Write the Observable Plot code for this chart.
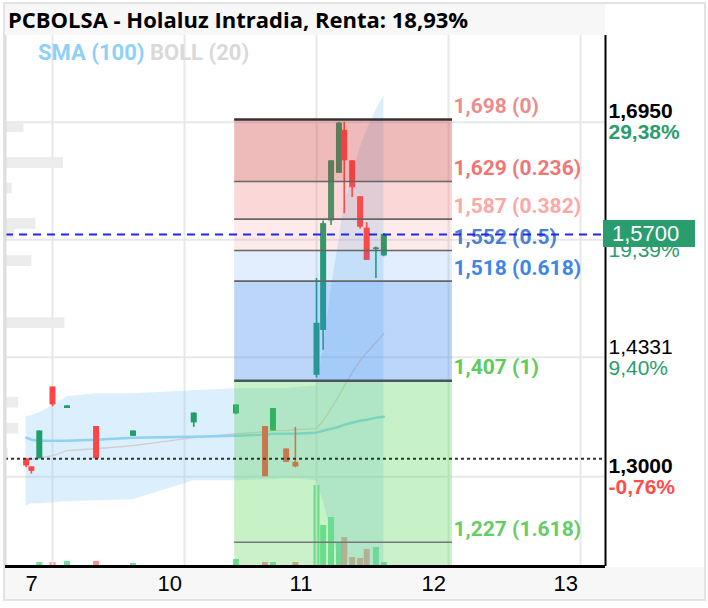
<!DOCTYPE html>
<html>
<head>
<meta charset="utf-8">
<script src="https://cdn.jsdelivr.net/npm/d3@7"></script>
<script src="https://cdn.jsdelivr.net/npm/@observablehq/plot@0.6"></script>
<style>
  html, body { margin: 0; padding: 0; background: #fff; }
  #page { position: relative; width: 708px; height: 608px; overflow: hidden; }
  #frame { position: absolute; left: 3px; top: 2px; width: 703px; height: 599px; box-sizing: border-box; border: 2px solid #e3e3e3; }
  #titlebar { position: absolute; left: 5px; top: 4px; width: 600px; height: 31px; background: #f7f7f7; }
  #title { position: absolute; left: 8px; top: 3px; line-height: 32px; font-family: "Open Sans", sans-serif; font-weight: bold; font-size: 22px; color: #000; white-space: nowrap; }
  #bottombar { position: absolute; left: 5px; top: 567px; width: 699px; height: 32px; background: #f7f7f7; }
  #chart { position: absolute; left: 0; top: 35px; width: 708px; height: 573px; }
  #chart svg { position: absolute; left: 0; top: 0; }
  #legend { position: absolute; left: 38px; top: 5px; font-family: Roboto, sans-serif; font-weight: bold; font-size: 22px; line-height: 25px; white-space: nowrap; }
  #pricebox { position: absolute; left: 603px; width: 92px; height: 27px; background: #2a9d6e; color: #fff; font-family: "Liberation Sans", Arial, sans-serif; font-size: 22px; line-height: 27px; padding-left: 9px; box-sizing: border-box; }
</style>
</head>
<body>
<div id="page">
  <div id="frame"></div>
  <div id="titlebar"></div>
  <div id="title">PCBOLSA - Holaluz Intradia, Renta: 18,93%</div>
  <div id="bottombar"></div>
  <div id="chart"></div>
</div>
<script>
// ---------- data ----------
const dayTicks  = [0, 1, 2, 3, 4];
const dayLabels = ["7", "10", "11", "12", "13"];

const priceTicks      = [1.6950, 1.5640, 1.4331, 1.3000];
const priceTickLabels = ["1,6950", "1,5640", "1,4331", "1,3000"];
const priceTickPct    = ["29,38%", "19,39%", "9,40%", "-0,76%"];
const priceTickBold   = [true, false, false, true];

// intraday bars (x = trading-day index, fractional)
const t     = [-0.20,-0.16,-0.10, 0.00, 0.11, 0.33, 0.61, 1.07, 1.39, 1.61, 1.67, 1.77, 1.84, 2.00, 2.05, 2.11, 2.17, 2.21, 2.27, 2.33, 2.38, 2.45, 2.51];
const open  = [1.320,1.311,1.320,1.400,1.376,1.356,1.345,1.360,1.370,1.356,1.351,1.331,1.316,1.413,1.463,1.585,1.638,1.686,1.652,1.612,1.577,1.553,1.546];
const close = [1.312,1.306,1.351,1.380,1.379,1.320,1.351,1.371,1.380,1.300,1.376,1.316,1.311,1.471,1.582,1.652,1.694,1.652,1.622,1.578,1.541,1.555,1.570];
const high  = [1.320,1.311,1.351,1.400,1.379,1.356,1.351,1.371,1.380,1.356,1.376,1.331,1.355,1.521,1.585,1.652,1.695,1.695,1.652,1.612,1.583,1.556,1.571];
const low   = [1.310,1.303,1.320,1.378,1.376,1.320,1.345,1.355,1.369,1.300,1.351,1.316,1.310,1.410,1.441,1.580,1.638,1.593,1.611,1.576,1.541,1.521,1.545];
const volume= [0,0,2000,2000,2500,2500,1500,0,3500,2000,2000,0,2000,40500,20500,24500,12000,14500,4500,4000,8500,9500,2000];

const sma100  = [1.3435,1.3413,1.3401,1.3401,1.3401,1.3413,1.3435,1.3446,1.3457,1.3468,1.3479,1.3479,1.3479,1.3491,1.3513,1.3535,1.3557,1.3580,1.3602,1.3624,1.3636,1.3658,1.3669];
const bollUp  = [1.3669,1.3680,1.3714,1.3792,1.3892,1.3925,1.3925,1.3959,1.3981,1.3981,1.3981,1.3981,1.3992,1.4015,1.4405,1.5074,1.5631,1.6021,1.6356,1.6657,1.6857,1.7080,1.7248];
const bollMid = [1.3178,1.3190,1.3212,1.3234,1.3290,1.3312,1.3346,1.3435,1.3479,1.3502,1.3513,1.3513,1.3524,1.3535,1.3624,1.3758,1.3903,1.4015,1.4159,1.4293,1.4382,1.4494,1.4594];
const bollLow = [1.2677,1.2699,1.2699,1.2710,1.2721,1.2733,1.2744,1.2955,1.2955,1.2967,1.2967,1.2978,1.2978,1.2955,1.2733,1.2398,1.2064,1.1841,1.1618,1.1395,1.1172,1.0949,1.0726];

// Fibonacci retracement
const fibStart  = 1.38;
const fibEnd    = 3.03;
const fibLevels = [1.698, 1.629, 1.587, 1.552, 1.518, 1.407, 1.227];
const fibRatios = ["0", "0.236", "0.382", "0.5", "0.618", "1", "1.618"];

const entryPrice = 1.32;
const lastPrice  = 1.57;

// blurred left-side profile bars
const ghostPrice = [1.6896, 1.6495, 1.6211, 1.5815, 1.5715, 1.5403, 1.4711, 1.3825, 1.3535, 1.3256];
const ghostLen   = [0.14, 0.44, 0.05, 0.23, 0.07, 0.20, 0.45, 0.10, 0.10, 0.02];

// ---------- styles ----------
const GREEN = "#1e9e68", RED = "#ff4545";
const zoneStyle = [
  {fill: "#d04040", a: 0.36}, {fill: "#f06060", a: 0.25}, {fill: "#f06060", a: 0.13},
  {fill: "#3a86f0", a: 0.15}, {fill: "#3a86f0", a: 0.34}, {fill: "#5ed65e", a: 0.35}, {fill: "#5ed65e", a: 0.33}
];
const fibLabelColor = ["#ec8c8c", "#f07676", "#ffa6a6", "#4a7fd0", "#3d85e6", "#5ccc5c", "#66cc66"];
const fibLineStyle = [
  {s: "#333", w: 2.5}, {s: "#666", w: 1.6}, {s: "#666", w: 1.6}, {s: "#666", w: 1.6},
  {s: "#666", w: 1.8}, {s: "#4a5560", w: 2.6}, {s: "#777", w: 1.6}
];

// ---------- derived tables ----------
const xDomain = [-0.356, 4.189];
const yDomain = [1.2, 1.7916];

const bars = t.map((x, i) => ({
  t: x, open: open[i], close: close[i], high: high[i], low: low[i], vol: volume[i],
  sma: sma100[i], up: bollUp[i], mid: bollMid[i], lo: bollLow[i]
}));
const upBars = bars.filter(d => d.close >= d.open);
const dnBars = bars.filter(d => d.close < d.open);

const zones = fibLevels.map((l, i) => ({
  top: l, bottom: i + 1 < fibLevels.length ? fibLevels[i + 1] : yDomain[0], ...zoneStyle[i]
}));
const fibs = fibLevels.map((l, i) => ({
  level: l, label: `${l.toFixed(3).replace(".", ",")} (${fibRatios[i]})`, color: fibLabelColor[i], ...fibLineStyle[i]
}));
const ghosts = ghostPrice.map((p, i) => ({p, len: ghostLen[i]}));
const ticksR = priceTicks.map((p, i) => ({
  p, label: priceTickLabels[i], pct: priceTickPct[i], bold: priceTickBold[i],
  pctColor: priceTickPct[i].startsWith("-") ? "#ff4d4d" : "#2a9d6e"
}));

const common = {
  width: 708, height: 573,
  marginLeft: 5, marginRight: 103, marginTop: 0, marginBottom: 42,
  x: {domain: xDomain, axis: null},
  style: {background: "transparent", overflow: "visible"}
};

// ---------- volume layer ----------
const volPlot = Plot.plot({
  ...common,
  y: {domain: [0, 265500], axis: null},
  marks: [
    Plot.ruleX(upBars.filter(d => d.vol > 0), {x: "t", y1: () => 0, y2: "vol", stroke: "#4cd98a", strokeOpacity: 0.8, strokeWidth: 6}),
    Plot.ruleX(dnBars.filter(d => d.vol > 0), {x: "t", y1: () => 0, y2: "vol", stroke: "#ff6b6b", strokeOpacity: 0.75, strokeWidth: 6})
  ]
});

// ---------- main layer ----------
const FONT_AX = "Liberation Sans, Arial, sans-serif";
const FONT_FIB = "Roboto, sans-serif";

const marks = [
  Plot.ruleX(dayTicks, {x: d => d, stroke: "#e8e8e8", strokeWidth: 2}),
  Plot.ruleY(priceTicks, {y: d => d, stroke: "#e8e8e8", strokeWidth: 2}),
  Plot.rect(ghosts, {x1: () => xDomain[0], x2: d => xDomain[0] + d.len, y1: d => d.p - 0.006, y2: d => d.p + 0.006, fill: "#ececec"}),
  Plot.areaY(bars, {x: "t", y1: "lo", y2: "up", fill: "#8ccaf5", fillOpacity: 0.3, clip: true}),
  Plot.line(bars, {x: "t", y: "mid", stroke: "#d4cccc", strokeWidth: 1.3, clip: true}),
  Plot.line(bars, {x: "t", y: "sma", stroke: "#8fd0f5", strokeWidth: 2.5}),
  Plot.ruleX(upBars, {x: "t", y1: "low", y2: "high", stroke: GREEN, strokeWidth: 1.6}),
  Plot.ruleX(dnBars, {x: "t", y1: "low", y2: "high", stroke: RED, strokeWidth: 1.6}),
  Plot.ruleX(upBars, {x: "t", y1: "open", y2: "close", stroke: GREEN, strokeWidth: 6}),
  Plot.ruleX(dnBars, {x: "t", y1: "open", y2: "close", stroke: RED, strokeWidth: 6}),
  ...zones.map(z => Plot.rect([z], {x1: () => fibStart, x2: () => fibEnd, y1: "bottom", y2: "top", fill: z.fill, fillOpacity: z.a})),
  ...fibs.map(f => Plot.ruleY([f], {y: "level", x1: () => fibStart, x2: () => fibEnd, stroke: f.s, strokeWidth: f.w})),
  ...fibs.map(f => Plot.text([f], {x: () => fibEnd, y: "level", text: "label", textAnchor: "start", lineAnchor: "middle", dx: 1, dy: -13,
    fill: f.color, fontFamily: FONT_FIB, fontWeight: "bold", fontSize: 21})),
  Plot.ruleY([entryPrice], {y: d => d, stroke: "#333", strokeWidth: 2, strokeDasharray: "3,3"}),
  Plot.ruleY([lastPrice], {y: d => d, stroke: "#2424f0", strokeWidth: 2, strokeDasharray: "8,6"}),
  Plot.ruleX([xDomain[0]], {x: d => d, stroke: "#dddddd", strokeWidth: 2}),
  Plot.ruleX([xDomain[1]], {x: d => d, stroke: "#000", strokeWidth: 2}),
  Plot.ruleY([yDomain[0]], {y: d => d, stroke: "#000", strokeWidth: 3}),
  // right price axis
  Plot.text(ticksR.filter(d => d.bold), {y: "p", text: "label", frameAnchor: "right", textAnchor: "start", lineAnchor: "middle", dx: 3, dy: -10.5,
    fill: "#000", fontFamily: FONT_AX, fontWeight: "bold", fontSize: 21}),
  Plot.text(ticksR.filter(d => !d.bold), {y: "p", text: "label", frameAnchor: "right", textAnchor: "start", lineAnchor: "middle", dx: 3, dy: -10.5,
    fill: "#000", fontFamily: FONT_AX, fontSize: 21}),
  ...ticksR.map(d => Plot.text([d], {y: "p", text: "pct", frameAnchor: "right", textAnchor: "start", lineAnchor: "middle", dx: 3, dy: 10.5,
    fill: d.pctColor, fontFamily: FONT_AX, fontWeight: d.bold ? "bold" : "normal", fontSize: 21})),
  // bottom day labels
  Plot.text(dayTicks, {x: d => d, text: (d, i) => dayLabels[i], frameAnchor: "bottom", textAnchor: "start", lineAnchor: "middle",
    dx: -27, dy: 17, fill: "#000", fontFamily: FONT_AX, fontSize: 22})
];

const mainPlot = Plot.plot({
  ...common,
  y: {domain: yDomain, axis: null},
  marks
});

const chart = document.getElementById("chart");
chart.appendChild(volPlot);
chart.appendChild(mainPlot);

// legend
const legend = document.createElement("div");
legend.id = "legend";
legend.innerHTML = '<span style="color:#8fd0f7">SMA (100)</span> <span style="color:#d9d9d9">BOLL (20)</span>';
chart.appendChild(legend);

// last price box placed via the y scale
const yPix = mainPlot.scale("y").apply(lastPrice);
const box = document.createElement("div");
box.id = "pricebox";
box.style.top = (yPix - 13.5) + "px";
box.textContent = lastPrice.toFixed(4).replace(".", ",");
chart.appendChild(box);
</script>
</body>
</html>
